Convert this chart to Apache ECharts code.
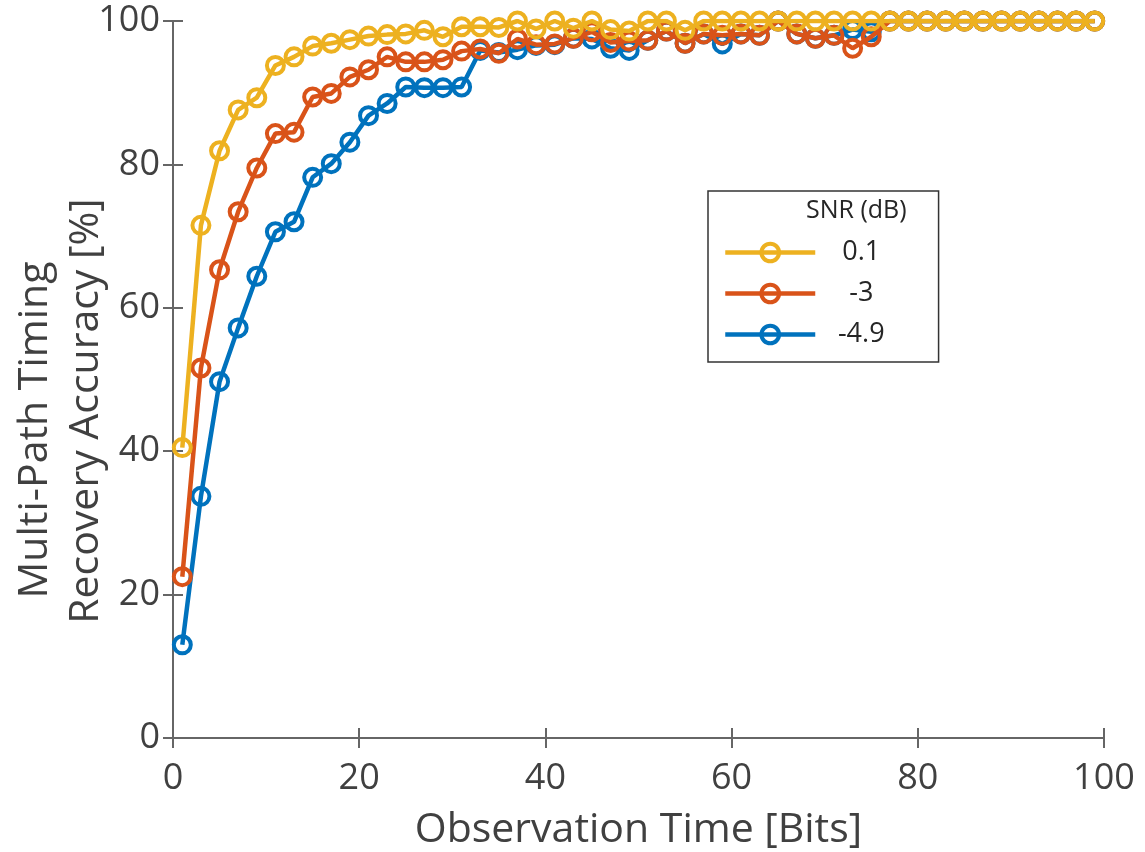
<!DOCTYPE html>
<html><head><meta charset="utf-8">
<script src="https://cdn.jsdelivr.net/npm/echarts@6/dist/echarts.min.js"></script>
<style>html,body{margin:0;padding:0;background:#fff}#c{width:1145px;height:852px}</style>
</head><body><div id="c"></div>
<script>
const bits = [1,3,5,7,9,11,13,15,17,19,21,23,25,27,29,31,33,35,37,39,41,43,45,47,49,51,53,55,57,59,61,63,65,67,69,71,73,75,77,79,81,83,85,87,89,91,93,95,97,99];
const snr01 = [40.5,71.5,81.9,87.6,89.3,93.8,95.0,96.5,96.9,97.4,97.9,98.1,98.2,98.7,97.8,99.2,99.2,99.1,100,98.9,100,99.0,100,98.8,98.6,100,100,98.7,100,100,100,100,100,100,100,100,100,100,100,100,100,100,100,100,100,100,100,100,100,100];
const snrM3 = [22.5,51.6,65.3,73.4,79.5,84.3,84.5,89.4,89.9,92.2,93.2,95.0,94.3,94.3,94.6,95.8,96.1,95.5,97.5,96.7,96.8,97.6,98.5,97.0,97.2,97.3,98.6,96.9,98.2,98.0,98.2,98.0,100,98.2,97.6,98.0,96.2,97.8,100,100,100,100,100,100,100,100,100,100,100,100];
const snrM49 = [13.0,33.7,49.7,57.2,64.4,70.6,72.0,78.2,80.1,83.1,86.8,88.5,90.8,90.7,90.7,90.8,95.9,95.6,96.0,96.6,96.7,97.6,97.5,96.2,95.9,97.3,98.6,96.9,98.2,96.8,98.2,98.0,100,98.2,97.6,98.0,98.8,98.5,100,100,100,100,100,100,100,100,100,100,100,100];
const seriesNames = ['0.1','-3','-4.9'];
const xTicks = [0,20,40,60,80,100];
const yTicks = [0,20,40,60,80,100];

const colors = {'0.1':'#EDB120','-3':'#D95319','-4.9':'#0072BD'};
const dataMap = {'0.1':snr01,'-3':snrM3,'-4.9':snrM49};
const font = '"Open Sans", "Noto Sans", sans-serif';
const axisColor = '#666';
const labelColor = '#404040';

function mk(name, z){
  return {
    name: name, type: 'line', z: z,
    data: bits.map((b,i)=>[b, dataMap[name][i]]),
    symbol: 'circle', symbolSize: 17,
    lineStyle: {width: 4.5, color: colors[name]},
    itemStyle: {color: 'rgba(255,255,255,0)', borderColor: colors[name], borderWidth: 4},
    emphasis: {disabled: true},
    animation: false
  };
}

const chart = echarts.init(document.getElementById('c'), null, {renderer:'canvas'});
const baseAxisCommon = {
  min: 0, max: 100, interval: 20,
  axisLine: {show: true, lineStyle: {color: axisColor, width: 2}},
  axisTick: {show: true, inside: true, length: 10, lineStyle: {color: axisColor, width: 2}},
  splitLine: {show: false}
};
chart.setOption({
  animation: false,
  grid: {left: 173, right: 41, top: 21, bottom: 114, containLabel: false, outerBoundsMode: 'none'},
  xAxis: [
    Object.assign({}, baseAxisCommon, {
      type: 'value', position: 'bottom',
      axisLabel: {color: labelColor, fontSize: 36, fontFamily: font, margin: 23,
        formatter: v => xTicks.includes(v) ? String(v) : ''},
      name: 'Observation Time [Bits]', nameLocation: 'middle', nameGap: 72,
      nameTextStyle: {color: labelColor, fontSize: 41, fontFamily: font}
    }),
    Object.assign({}, baseAxisCommon, {
      type: 'value', position: 'top', axisLabel: {show: false}
    })
  ],
  yAxis: [
    Object.assign({}, baseAxisCommon, {
      type: 'value', position: 'left',
      axisLabel: {color: labelColor, fontSize: 36, fontFamily: font, margin: 13,
        formatter: v => yTicks.includes(v) ? String(v) : ''}
    }),
    Object.assign({}, baseAxisCommon, {
      type: 'value', position: 'right', axisLabel: {show: false}
    })
  ],
  legend: {
    data: seriesNames,
    orient: 'vertical', left: 708, top: 191,
    padding: [48, 54, 14, 15],
    itemGap: 14, itemWidth: 90, itemHeight: 22,
    borderColor: '#333', borderWidth: 1.5, backgroundColor: '#fff',
    lineStyle: {width: 4.5},
    itemStyle: {borderWidth: 4},
    formatter: n => '{c|' + n + '}',
    textStyle: {color: '#262626', fontSize: 27, fontFamily: font,
      rich: {c: {width: 60, align: 'center', fontSize: 27, fontFamily: font, color: '#262626', padding: [0, 0, 0, 11]}}},
    selectedMode: false
  },
  graphic: [
    {type: 'text', left: 806, top: 198, z: 100,
     style: {text: 'SNR (dB)', fill: '#262626', font: '25px ' + font}},
    {type: 'text', x: 35, y: 430, rotation: Math.PI/2, z: 100,
     style: {text: 'Multi-Path Timing', fill: labelColor, font: '41px ' + font, align: 'center', verticalAlign: 'middle'}},
    {type: 'text', x: 86, y: 411, rotation: Math.PI/2, z: 100,
     style: {text: 'Recovery Accuracy [%]', fill: labelColor, font: '41px ' + font, align: 'center', verticalAlign: 'middle'}}
  ],
  series: [mk('-4.9', 2), mk('-3', 3), mk('0.1', 4)]
});
</script></body></html>
